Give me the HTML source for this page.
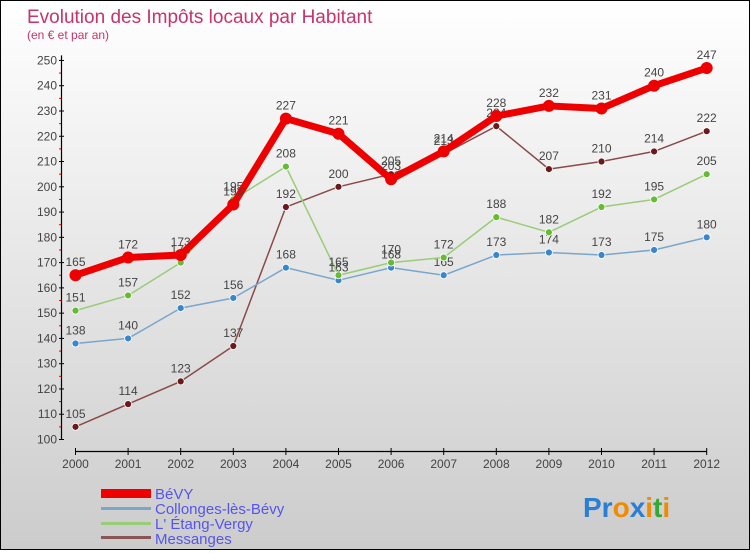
<!DOCTYPE html>
<html><head><meta charset="utf-8"><style>
html,body{margin:0;padding:0}
body{width:750px;height:550px;overflow:hidden;font-family:"Liberation Sans",sans-serif}
#c{position:absolute;left:0;top:0;width:748px;height:548px;border:1px solid #000;background:linear-gradient(#fff,#ccc)}
</style></head><body>
<div id="c">
<svg id="s" width="748" height="548" xmlns="http://www.w3.org/2000/svg">
<text x="26" y="22" font-size="19" fill="#c8336a">Evolution des Impôts locaux par Habitant</text>
<text x="26" y="38" font-size="12" fill="#c8336a">(en € et par an)</text>
<g id="axes"></g><g id="series"></g>
<g font-size="15" fill="#5555ee">
<rect x="100" y="488" width="50" height="9" fill="#e00"/>
<text x="154" y="498">BéVY</text>
<rect x="100" y="506" width="50" height="3" fill="#7aa6cc"/>
<text x="154" y="513">Collonges-lès-Bévy</text>
<rect x="100" y="521" width="50" height="3" fill="#99cc77"/>
<text x="154" y="528">L' Étang-Vergy</text>
<rect x="100" y="535" width="50" height="3" fill="#8a5555"/>
<text x="154" y="543">Messanges</text>
</g>
<text x="582" y="516" font-size="28" font-weight="bold"><tspan fill="#2a7fd4">Pr</tspan><tspan fill="#f08a00">o</tspan><tspan fill="#2a7fd4">x</tspan><tspan fill="#f08a00">i</tspan><tspan fill="#33aa33">t</tspan><tspan fill="#f08a00">i</tspan></text>
</svg></div>
<script>
const years=[2000,2001,2002,2003,2004,2005,2006,2007,2008,2009,2010,2011,2012];
const bevy=[165,172,173,193,227,221,203,214,228,232,231,240,247];
const collonges=[138,140,152,156,168,163,168,165,173,174,173,175,180];
const etang=[151,157,170,195,208,165,170,172,188,182,192,195,205];
const messanges=[105,114,123,137,192,200,205,213,224,207,210,214,222];
const yTicks=[100,110,120,130,140,150,160,170,180,190,200,210,220,230,240,250];
const NS="http://www.w3.org/2000/svg";
const X=i=>74.5+i*52.6;
const Y=v=>438.5-(v-100)*2.527;
function mk(t,a,p){const e=document.createElementNS(NS,t);for(const k in a)e.setAttribute(k,a[k]);p.appendChild(e);return e;}
const ax=document.getElementById('axes');
mk('line',{x1:60.5,y1:Y(252),x2:60.5,y2:Y(100),stroke:'#000','stroke-width':1.2},ax);
mk('line',{x1:X(0),y1:450.5,x2:X(12),y2:450.5,stroke:'#000','stroke-width':1.2},ax);
yTicks.forEach(v=>{
 const t=mk('text',{x:56,y:Y(v)+4,'font-size':12,fill:'#444','text-anchor':'end'},ax);t.textContent=v;
 
 
 mk('line',{x1:58,y1:Y(v),x2:63,y2:Y(v),stroke:'#000'},ax);
 if(v<250)mk('line',{x1:58,y1:Y(v+5),x2:60,y2:Y(v+5),stroke:'#e00'},ax);
});
years.forEach((y,i)=>{
 mk('line',{x1:X(i),y1:447,x2:X(i),y2:454,stroke:'#000'},ax);
 const t=mk('text',{x:X(i),y:467,'font-size':12,fill:'#444','text-anchor':'middle'},ax);t.textContent=y;
 
 
});
const sg=document.getElementById('series');
function draw(d,name,col,dot,w,r){
 const g=mk('g',{},sg);
 
 
 mk('polyline',{points:d.map((v,i)=>X(i)+','+Y(v)).join(' '),fill:'none',stroke:col,'stroke-width':w,'stroke-linejoin':'round'},g);
 d.forEach((v,i)=>{
  const c=mk('circle',{cx:X(i),cy:Y(v),r:r,fill:dot,stroke:'#fff','stroke-width':r>4?0:0.8},g);
  
  
  const t=mk('text',{x:X(i),y:Y(v)-9,'font-size':12,fill:'#444','text-anchor':'middle'},g);t.textContent=v;
  
  
 });
}
draw(messanges,'messanges','#8a4a4a','#6a1a1a',1.5,3.5);
draw(collonges,'collonges','#7aa6cc','#3a86cc',1.5,3.5);
draw(etang,'etang','#99cc77','#66bb33',1.5,3.5);
draw(bevy,'bevy','#ee0000','#ee0000',7,6);
</script>
</body></html>
